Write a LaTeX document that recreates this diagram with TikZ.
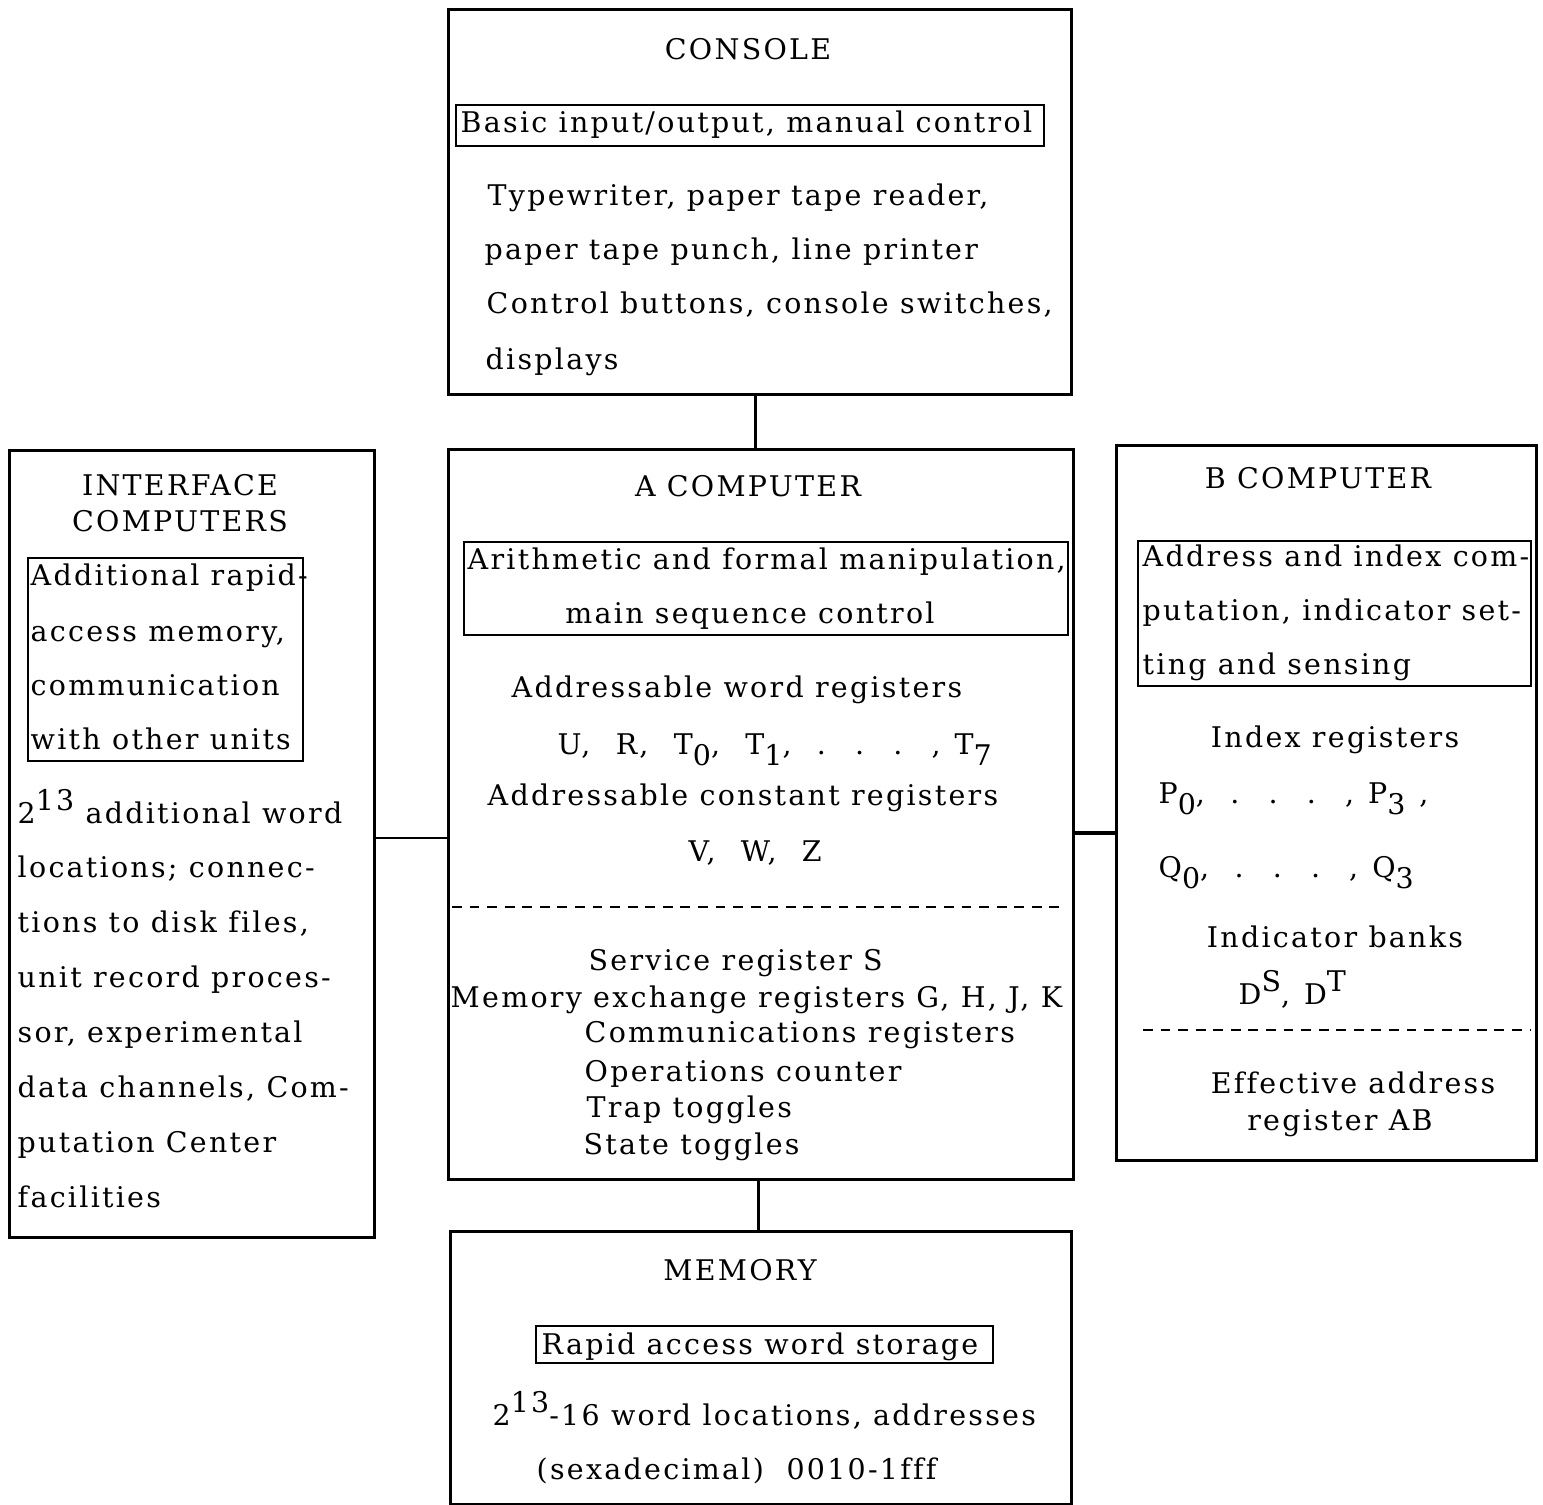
\documentclass[tikz,border=0pt]{standalone}
\usepackage{fontspec}
\setmainfont[LetterSpace=8, Ligatures={NoCommon}]{DejaVu Serif}
\usetikzlibrary{positioning}

\newcommand{\sbx}[1]{\raisebox{-0.7ex}{#1}}
\newcommand{\spx}[1]{\raisebox{0.9ex}{#1}}
\newcommand{\gap}{\hspace{4pt}}

\begin{document}
\begin{tikzpicture}[
  unit/.style={draw, line width=0.8pt, inner sep=0pt, anchor=north west},
  tag/.style={draw, line width=0.6pt, inner sep=0pt, anchor=north west},
  txt/.style={inner sep=0pt, anchor=base west, font=\fontsize{8.1}{10}\selectfont},
  ctr/.style={inner sep=0pt, anchor=base, font=\fontsize{8.1}{10}\selectfont},
]
  \useasboundingbox (0,0) rectangle (15.43,-15.05);

  % the five units
  \node[unit, minimum width=6.23cm, minimum height=3.85cm] (console) at (4.47,-0.08) {};
  \node[unit, minimum width=6.25cm, minimum height=7.30cm] (acomp) at (4.47,-4.48) {};
  \node[unit, minimum width=6.21cm, minimum height=2.73cm] (memory) at (4.49,-12.30) {};
  \node[unit, minimum width=3.65cm, minimum height=7.87cm] (iface) at (0.08,-4.49) {};
  \node[unit, minimum width=4.20cm, minimum height=7.15cm] (bcomp) at (11.15,-4.44) {};

  % links
  \coordinate (linkL) at (0,-8.38);
  \coordinate (linkR) at (0,-8.33);
  \draw[line width=0.8pt] ([xshift=-0.45mm]console.south) -- ([xshift=-0.45mm]console.south |- acomp.north);
  \draw[line width=0.8pt] ([xshift=-0.25mm]acomp.south) -- ([xshift=-0.25mm]acomp.south |- memory.north);
  \draw[line width=0.8pt] (iface.east |- linkL) -- (acomp.west |- linkL);
  \draw[line width=1.3pt] (acomp.east |- linkR) -- (bcomp.west |- linkR);

  % console
  \node[ctr] (contitle) at (7.48,-0.60) {CONSOLE};
  \node[tag, minimum width=5.88cm, minimum height=0.41cm] (contag) at (4.55,-1.04) {};
  \node[txt] (contagtxt) at (4.60,-1.33) {Basic input/output, manual control};
  \node[txt] (con1) at (4.87,-2.06) {Typewriter, paper tape reader,};
  \node[txt] (con2) at (4.84,-2.60) {paper tape punch, line printer};
  \node[txt] (con3) at (4.86,-3.14) {Control buttons, console switches,};
  \node[txt] (con4) at (4.85,-3.70) {displays};

  % A computer
  \node[ctr] (atitle) at (7.48,-4.97) {A COMPUTER};
  \node[tag, minimum width=6.04cm, minimum height=0.93cm] (atag) at (4.63,-5.41) {};
  \node[txt] (atag1) at (4.67,-5.70) {Arithmetic and formal manipulation,};
  \node[ctr] (atag2) at (7.50,-6.24) {main sequence control};
  \node[txt] (a1) at (5.11,-6.98) {Addressable word registers};
  \node[txt] (a2) at (5.57,-7.55) {U,\gap{} R,\gap{} T\sbx{0},\gap{} T\sbx{1},\gap{} .\gap{} .\gap{} .\gap{} ,\gap{}T\sbx{7}};
  \node[txt] (a3) at (4.87,-8.06) {Addressable constant registers};
  \node[txt] (a4) at (6.88,-8.62) {V,\gap{} W,\gap{} Z};
  \draw[line width=0.6pt, dash pattern=on 2.8pt off 2.2pt] (4.52,-9.07) -- (10.63,-9.07);
  \node[txt] (a5) at (5.88,-9.71) {Service register S};
  \node[txt] (a6) at (4.50,-10.08) {Memory exchange registers G, H, J, K};
  \node[txt] (a7) at (5.84,-10.43) {Communications registers};
  \node[txt] (a8) at (5.84,-10.82) {Operations counter};
  \node[txt] (a9) at (5.86,-11.18) {Trap toggles};
  \node[txt] (a10) at (5.83,-11.55) {State toggles};

  % interface computers
  \node[ctr] (iftitle1) at (1.80,-4.96) {INTERFACE};
  \node[ctr] (iftitle2) at (1.80,-5.32) {COMPUTERS};
  \node[tag, minimum width=2.75cm, minimum height=2.03cm] (iftag) at (0.27,-5.57) {};
  \node[txt] (iftag1) at (0.30,-5.86) {Additional rapid-};
  \node[txt] (iftag2) at (0.30,-6.42) {access memory,};
  \node[txt] (iftag3) at (0.30,-6.96) {communication};
  \node[txt] (iftag4) at (0.30,-7.50) {with other units};
  \node[txt] (if1) at (0.17,-8.24) {2\spx{13} additional word};
  \node[txt] (if2) at (0.17,-8.78) {locations; connec-};
  \node[txt] (if3) at (0.17,-9.33) {tions to disk files,};
  \node[txt] (if4) at (0.17,-9.88) {unit record proces-};
  \node[txt] (if5) at (0.17,-10.43) {sor, experimental};
  \node[txt] (if6) at (0.17,-10.98) {data channels, Com-};
  \node[txt] (if7) at (0.17,-11.53) {putation Center};
  \node[txt] (if8) at (0.17,-12.08) {facilities};

  % B computer
  \node[ctr] (btitle) at (13.18,-4.89) {B COMPUTER};
  \node[tag, minimum width=3.93cm, minimum height=1.45cm] (btag) at (11.37,-5.40) {};
  \node[txt] (btag1) at (11.42,-5.67) {Address and index com-};
  \node[txt] (btag2) at (11.42,-6.21) {putation, indicator set-};
  \node[txt] (btag3) at (11.42,-6.75) {ting and sensing};
  \node[ctr] (b1) at (13.35,-7.48) {Index registers};
  \node[txt] (b2) at (11.58,-8.04) {P\sbx{0},\gap{} .\gap{} .\gap{} .\gap{} ,\gap{}P\sbx{3}\gap{},};
  \node[txt] (b3) at (11.58,-8.78) {Q\sbx{0},\gap{} .\gap{} .\gap{} .\gap{} ,\gap{}Q\sbx{3}};
  \node[ctr] (b4) at (13.35,-9.48) {Indicator banks};
  \node[txt] (b5) at (12.38,-10.05) {D\spx{S},\gap{}D\spx{T}};
  \draw[line width=0.6pt, dash pattern=on 2.8pt off 2.2pt] (11.43,-10.30) -- (15.30,-10.30);
  \node[ctr] (b6) at (13.53,-10.94) {Effective address};
  \node[ctr] (b7) at (13.40,-11.31) {register AB};

  % memory
  \node[ctr] (memtitle) at (7.40,-12.81) {MEMORY};
  \node[tag, minimum width=4.57cm, minimum height=0.37cm] (memtag) at (5.35,-13.25) {};
  \node[txt] (memtagtxt) at (5.41,-13.55) {Rapid access word storage};
  \node[txt] (mem1) at (4.92,-14.26) {2\spx{13}-16 word locations, addresses};
  \node[txt] (mem2) at (5.36,-14.80) {(sexadecimal)\ \ 0010-1fff};
\end{tikzpicture}
\end{document}
